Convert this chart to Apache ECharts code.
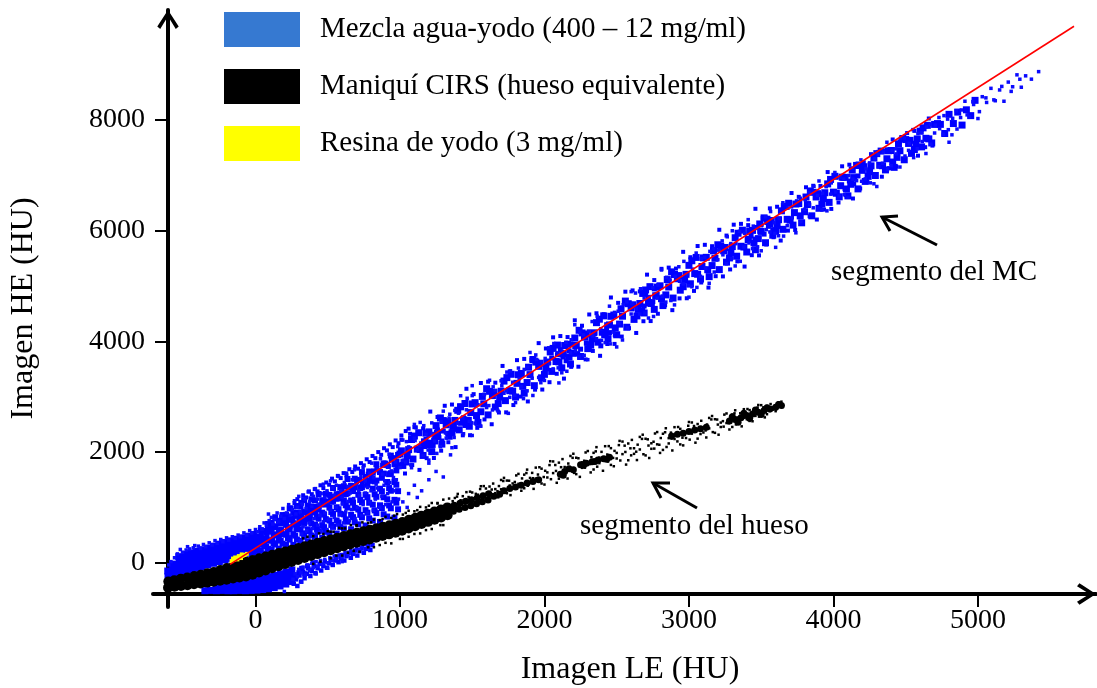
<!DOCTYPE html>
<html>
<head>
<meta charset="utf-8">
<title>Imagen HE vs Imagen LE</title>
<script src="https://cdn.jsdelivr.net/npm/echarts@6/dist/echarts.min.js"></script>
<style>
  html, body { margin: 0; padding: 0; background: #fff; }
  #chart { width: 1097px; height: 688px; }
</style>
</head>
<body>
<div id="chart"></div>
<script>
// ticks
const xTicks = [0, 1000, 2000, 3000, 4000, 5000];
const yTicks = [0, 2000, 4000, 6000, 8000];

const seriesNames = ['Mezcla agua-yodo (400 – 12 mg/ml)', 'Maniquí CIRS (hueso equivalente)', 'Resina de yodo (3 mg/ml)'];

// mezcla agua-yodo: zona compacta junto al origen
const waterSolid = [
  [-605,-250],[-607,-150],
  [-570,-230],[-572,-125],[-568,-25],
  [-530,-200],[-533,-95],[-527,15],[-531,110],
  [-490,-170],[-492,-65],[-487,45],[-491,150],
  [-450,-135],[-453,-25],[-448,80],[-451,175],
  [-410,-100],[-412,10],[-407,110],[-411,205],
  [-370,-70],[-373,40],[-368,140],[-371,235],
  [-330,-40],[-332,70],[-327,170],[-331,265],
  [-290,-10],[-293,100],[-288,200],[-291,300],
  [-250,20],[-252,130],[-247,230],[-251,335],
  [-210,50],[-213,160],[-208,260],[-211,365],
  [-170,80],[-172,190],[-167,290],[-171,395],
  [-130,110],[-133,220],[-128,320],[-131,425],
  [-90,140],[-92,250],[-87,350],[-91,450],
  [-50,170],[-53,280],[-48,380],[-51,480],
  [-10,200],[-12,310],[-7,410],[-11,510],
  [-350,-505],[-310,-500],[-270,-505],[-272,-430],[-230,-500],[-232,-410],[-190,-505],[-192,-400],
  [-150,-505],[-148,-405],[-152,-320],[-110,-500],[-112,-400],[-108,-300],[-70,-505],[-72,-400],[-68,-290],
  [-30,-500],[-32,-395],[-28,-285],[10,-495],[12,-390],[8,-280],[50,-485],[48,-375],[52,-265],
  [90,-470],[88,-360],[92,-250],[130,-450],[128,-340],[132,-230],[170,-420],[168,-310],[172,-200],
  [210,-385],[208,-280],[212,-170],[250,-340],[248,-240],[252,-130]
];

// mezcla: abanico por encima del hueso (0 – 1000 HU)
const waterFan = [
  [12,144],[12,253],[12,362],[12,471],[37,218],[37,341],[37,464],[37,586],
  [62,167],[62,304],[62,440],[62,577],[87,250],[87,400],[87,611],[87,701],
  [112,244],[112,403],[112,563],[112,722],[137,330],[137,495],[137,659],[137,823],
  [162,254],[162,422],[162,590],[162,758],[187,344],[187,516],[187,758],[187,862],
  [212,329],[212,507],[212,686],[212,865],[237,419],[237,606],[237,793],[237,980],
  [262,323],[262,517],[262,712],[262,906],[287,419],[287,622],[287,905],[287,1026],
  [312,396],[312,604],[312,812],[312,1019],[337,498],[337,709],[337,921],[337,1132],
  [362,388],[362,603],[362,817],[362,1032],[387,493],[387,711],[387,1016],[387,1147],
  [412,466],[412,687],[412,908],[412,1129],[437,571],[437,795],[437,1019],[437,1242],
  [462,452],[462,679],[462,905],[462,1131],[487,559],[487,788],[487,1108],[487,1246],
  [512,533],[512,764],[512,996],[512,1227],[537,648],[537,882],[537,1117],[537,1351],
  [562,528],[562,765],[562,1003],[562,1240],[587,644],[587,885],[587,1222],[587,1367],
  [612,620],[612,874],[612,1128],[612,1382],[637,742],[637,999],[637,1256],[637,1513],
  [662,605],[662,865],[662,1126],[662,1386],[687,729],[687,992],[687,1361],[687,1519],
  [712,694],[712,962],[712,1229],[712,1497],[737,820],[737,1093],[737,1365],[737,1638],
  [762,673],[762,950],[762,1228],[762,1505],[787,802],[787,1084],[787,1480],[787,1649],
  [812,762],[812,1050],[812,1338],[812,1626],[837,897],[837,1192],[837,1486],[837,1780],
  [862,737],[862,1038],[862,1338],[862,1639],[887,876],[887,1183],[887,1612],[887,1796],
  [912,835],[912,1147],[912,1459],[912,1771],[937,984],[937,1301],[937,1618],[937,1936],
  [962,814],[962,1137],[962,1459],[962,1781],[987,966],[987,1294],[987,1752],[987,1948],
  [25,226],[25,342],[25,436],[75,293],[75,437],[75,552],[125,352],[125,513],[125,643],
  [175,400],[175,571],[175,707],[225,446],[225,629],[225,775],[275,490],[275,688],[275,847],
  [325,531],[325,740],[325,908],[375,570],[375,786],[375,959],[425,607],[425,830],[425,1008],
  [475,643],[475,870],[475,1052],[525,683],[525,916],[525,1102],[575,729],[575,968],[575,1160],
  [625,783],[625,1038],[625,1242],[675,824],[675,1086],[675,1295],[725,865],[725,1135],[725,1351],
  [775,905],[775,1185],[775,1409],[825,946],[825,1237],[825,1470],[875,989],[875,1292],[875,1535],
  [925,1035],[925,1350],[925,1601],[975,1085],[975,1410],[975,1669]
];

// mezcla: borde superior del abanico
const waterFanTop = [
  [250,1000],[270,1080],[290,1150],[310,1100],[330,1220],[350,1180],[370,1290],[390,1240],[410,1330],
  [430,1290],[450,1400],[470,1350],[490,1450],[510,1410],[530,1520],[550,1470],[570,1570],[590,1530],
  [610,1620],[630,1580],[650,1690],[670,1640],[690,1740],[710,1700],[730,1800],[750,1760],[770,1870],
  [790,1820],[810,1930],[830,1890],[850,2000],[870,1950],[890,2070],[910,2030],[930,2140],[950,2090],
  [970,2210],[990,2160],[1010,2300],[1040,2380],[1070,2330],[1100,2450]
];

// mezcla: por debajo del hueso
const waterBelow = [
  [265,-380],[280,-300],[290,-420],[305,-230],[315,-340],[330,-160],[340,-280],[355,-200],[365,-100],
  [380,-240],[390,-150],[405,-60],[415,-190],[430,-100],[445,-20],[455,-140],[470,-60],[480,20],
  [495,-90],[510,-10],[520,60],[535,-40],[550,40],[560,110],[575,10],[590,80],[600,140],[615,40],
  [630,120],[645,180],[660,90],[675,160],[690,220],[705,130],[720,210],[735,260],[750,180],[765,250],
  [780,300],[795,230],[810,320]
];

// mezcla: grumos densos
const waterClumps = [
  [20,420],[40,520],[60,380],[80,470],[100,560],[120,420],[140,650],[160,500],[180,600],[200,720],
  [220,540],[240,650],[260,800],[280,600],[300,700],
  [280,-250],[300,-180],[320,-100],[340,-200],[360,-60],[380,-130],[400,0],
  [300,760],[320,830],[340,780],[360,880],[380,850],[400,930],[420,990],[440,950],[460,1050],[480,1100],
  [500,1060],[520,1160],[540,1200],[560,1150],[580,1260],[600,1300],[620,1240],[640,1350],[660,1400],
  [680,1350],[700,1460],[720,1500],[740,1440],[760,1560],[780,1600],[800,1540],[820,1660],[840,1700],
  [860,1640],[880,1760],[900,1800],[920,1740],[940,1860],[960,1900],[980,1840],
  [1150,2150],[1180,2230],[1210,2180],[1240,2300],[1270,2260],[1300,2380],[1330,2340],[1360,2450],
  [1390,2410],[1420,2520],[1450,2480],[1480,2590],[1200,2320],[1260,2400],[1320,2480],[1380,2560],
  [1440,2620],[1170,2100],[1230,2120],[1290,2200],
  [2050,3700],[2090,3760],[2130,3720],[2170,3830],[2210,3900],[2250,3860],[2290,3970],[2330,4030],
  [2370,3990],[2410,4100],[2450,4160],[2490,4120],[2110,3850],[2190,3950],[2270,4070],[2350,4150],
  [2430,4250],[2150,3650],[2230,3780],[2310,3890],[2390,3920],
  [2660,4700],[2690,4640],[2720,4780],[2750,4720],[2780,4850],[2700,4860],[2760,4950],[2680,4560],
  [3430,5900],[3460,5850],[3490,5990],[3520,5940],[3550,6080],[3580,6020],[3470,6060],[3540,6150],
  [4050,6820],[4080,6760],[4110,6900],[4140,6850],[4170,6990],[4060,6950]
];

// mezcla: franja principal (núcleo)
const waterBand = [
  [1000,1965],[1040,1821],[1080,2227],[1120,2053],[1160,1939],[1200,2365],[1240,2201],[1280,2617],
  [1320,2493],[1360,2349],[1400,2755],[1440,2581],[1480,2467],[1520,2893],[1560,2729],[1600,3145],
  [1640,3021],[1680,2877],[1720,3283],[1760,3109],[1800,2995],[1840,3421],[1880,3257],[1920,3673],
  [1960,3549],[2000,3405],[2040,3811],[2080,3637],[2120,3523],[2160,3949],[2200,3785],[2240,4201],
  [2280,4077],[2320,3933],[2360,4339],[2400,4165],[2440,4051],[2480,4477],[2520,4313],[2560,4729],
  [2600,4605],[2640,4461],[2680,4867],[2720,4693],[2760,4579],[2800,5005],[2840,4841],[2880,5257],
  [2920,5133],[2960,4989],[3000,5375],[3040,5226],[3080,5127],[3120,5520],[3160,5371],[3200,5747],
  [3240,5638],[3280,5509],[3320,5874],[3360,5720],[3400,5616],[3440,6007],[3480,5858],[3520,6233],
  [3560,6124],[3600,5995],[3640,6361],[3680,6207],[3720,6102],[3760,6493],[3800,6344],[3840,6720],
  [3880,6611],[3920,6481],[3960,6847],[4000,6698],[4040,6614],[4080,6965],[4120,6840],[4160,7181],
  [4200,7092],[4240,6983],[4280,7314],[4320,7184],[4360,7100],[4400,7451],[4440,7327],[4480,7668],
  [4520,7578],[4560,7469],[4600,7800],[4640,7671],[4680,7587],[4720,7937],
  [1020,1758],[1060,2044],[1100,2290],[1140,2046],[1180,2342],[1220,2008],[1260,2344],[1300,2570],
  [1340,2286],[1380,2572],[1420,2818],[1460,2574],[1500,2870],[1540,2536],[1580,2872],[1620,3098],
  [1660,2814],[1700,3100],[1740,3346],[1780,3102],[1820,3398],[1860,3064],[1900,3400],[1940,3626],
  [1980,3342],[2020,3628],[2060,3874],[2100,3630],[2140,3926],[2180,3592],[2220,3928],[2260,4154],
  [2300,3870],[2340,4156],[2380,4402],[2420,4158],[2460,4454],[2500,4120],[2540,4456],[2580,4682],
  [2620,4398],[2660,4684],[2700,4930],[2740,4686],[2780,4982],[2820,4648],[2860,4984],[2900,5210],
  [2940,4926],[2980,5212],[3020,5458],[3060,5214],[3100,5510],[3140,5171],[3180,5502],[3220,5722],
  [3260,5433],[3300,5714],[3340,5955],[3380,5706],[3420,5996],[3460,5657],[3500,5988],[3540,6209],
  [3580,5920],[3620,6200],[3660,6441],[3700,6192],[3740,6483],[3780,6144],[3820,6474],[3860,6695],
  [3900,6406],[3940,6687],[3980,6928],[4020,6678],[4060,6969],[4100,6630],[4140,6961],[4180,7182],
  [4220,6892],[4260,7173],[4300,7394],[4340,7175],[4380,7446],[4420,7146],[4460,7447],[4500,7648],
  [4540,7399],[4580,7660],[4620,7860],[4660,7661],[4700,7922],
  [1010,2022],[1050,1938],[1090,1874],[1130,2350],[1170,2186],[1210,2132],[1250,2478],[1290,2144],
  [1330,2550],[1370,2466],[1410,2402],[1450,2878],[1490,2714],[1530,2660],[1570,3006],[1610,2672],
  [1650,3078],[1690,2994],[1730,2930],[1770,3406],[1810,3242],[1850,3188],[1890,3534],[1930,3200],
  [1970,3606],[2010,3522],[2050,3458],[2090,3934],[2130,3770],[2170,3716],[2210,4062],[2250,3728],
  [2290,4134],[2330,4050],[2370,3986],[2410,4462],[2450,4298],[2490,4244],[2530,4590],[2570,4256],
  [2610,4662],[2650,4578],[2690,4514],[2730,4990],[2770,4826],[2810,4772],[2850,5118],[2890,4784],
  [2930,5190],[2970,5106],[3010,5042],[3050,5518],[3090,5354],[3130,5296],[3170,5637],[3210,5298],
  [3250,5698],[3290,5609],[3330,5540],[3370,6011],[3410,5842],[3450,5782],[3490,6123],[3530,5784],
  [3570,6185],[3610,6096],[3650,6026],[3690,6497],[3730,6328],[3770,6269],[3810,6610],[3850,6270],
  [3890,6671],[3930,6582],[3970,6513],[4010,6984],[4050,6814],[4090,6755],[4130,7096],[4170,6757],
  [4210,7158],[4250,7068],[4290,6999],[4330,7440],[4370,7301],[4410,7242],[4450,7572],[4490,7283],
  [4530,7634],[4570,7565],[4610,7516],[4650,7906],
  [4740,7923],[4770,7758],[4800,8104],[4830,7938],[4860,8145],[4890,7910],[4920,8186],[4950,8081],[4980,8357]
];

// mezcla: franja principal (bordes)
const waterBandEdge = [
  [1010,2222],[1035,1613],[1060,2424],[1085,1765],[1110,2447],[1135,1678],[1160,2429],[1185,1890],
  [1210,2732],[1235,1893],[1260,2634],[1285,2025],[1310,2837],[1335,2178],[1360,2859],[1385,2090],
  [1410,2842],[1435,2303],[1460,3144],[1485,2305],[1510,3047],[1535,2438],[1560,3249],[1585,2590],
  [1610,3272],[1635,2503],[1660,3254],[1685,2715],[1710,3557],[1735,2718],[1760,3459],[1785,2850],
  [1810,3662],[1835,3003],[1860,3684],[1885,2915],[1910,3667],[1935,3128],[1960,3969],[1985,3130],
  [2010,3872],[2035,3263],[2060,4074],[2085,3415],[2110,4097],[2135,3328],[2160,4079],[2185,3540],
  [2210,4382],[2235,3543],[2260,4284],[2285,3675],[2310,4487],[2335,3828],[2360,4509],[2385,3740],
  [2410,4492],[2435,3953],[2460,4794],[2485,3955],[2510,4697],[2535,4088],[2560,4899],[2585,4240],
  [2610,4922],[2635,4153],[2660,4904],[2685,4365],[2710,5207],[2735,4368],[2760,5109],[2785,4500],
  [2810,5312],[2835,4653],[2860,5334],[2885,4565],[2910,5317],[2935,4778],[2960,5619],[2985,4780],
  [3010,5522],[3035,4913],[3060,5724],[3085,5065],[3110,5746],[3135,4973],[3160,5721],[3185,5179],
  [3210,6018],[3235,5175],[3260,5913],[3285,5301],[3310,6110],[3335,5447],[3360,6125],[3385,5353],
  [3410,6102],[3435,5559],[3460,6397],[3485,5555],[3510,6234],[3535,5751],[3560,6405],[3585,5883],
  [3610,6434],[3635,5823],[3660,6429],[3685,6003],[3710,6682],[3735,6015],[3760,6613],[3785,6131],
  [3810,6786],[3835,6263],[3860,6813],[3885,6203],[3910,6810],[3935,6383],[3960,7061],[3985,6395],
  [4010,6994],[4035,6511],[4060,7165],[4085,6643],[4110,7194],[4135,6583],[4160,7189],[4185,6763],
  [4210,7238],[4235,6885],[4260,7385],[4285,7003],[4310,7426],[4335,6977],[4360,7441],[4385,7131],
  [4410,7650],[4435,7159],[4460,7617],[4485,7265],[4510,7766],[4535,7383],[4560,7805],[4585,7357],
  [4610,7822],[4635,7511],[4660,8029],[4685,7539]
];

// mezcla: puntos dispersos
const waterSpeckle = [
  [-600,-40],[-585,20],[-560,90],[-540,160],[-520,240],[-505,190],[-480,230],[-470,290],[-455,250],
  [-430,270],[-420,310],[-395,300],[-380,260],[-360,330],[-345,290],[-320,360],[-300,320],[-280,400],
  [-265,350],[-240,420],[-225,380],[-200,450],[-185,410],[-160,470],[-140,440],[-120,500],[-105,470],
  [-80,540],[-60,500],[-40,580],[-25,540],[0,600],[15,560],[30,650],[45,610],[60,720],[75,680],
  [90,880],[95,760],[110,820],[120,700],[135,780],[150,900],[160,740],[175,840],[190,980],[200,800],
  [215,900],[230,1050],[240,860],[255,960],[270,1120],[280,880],[290,1000],[300,1200],[310,920],
  [325,1060],[340,1150],[350,980],[365,1280],[375,1100],[390,1020],[400,1200],[415,1340],[430,1150],
  [440,1060],[455,1250],[470,1420],[480,1180],[495,1300],[510,1100],[520,1480],[535,1350],[545,1220],
  [560,1400],[575,1560],[590,1300],[600,1180],[615,1450],[630,1620],[640,1380],[655,1260],[670,1500],
  [685,1680],[700,1420],[715,1300],[730,1560],[745,1720],[760,1480],[775,1360],[790,1620],[805,1800],
  [820,1540],[835,1420],[850,1680],[865,1880],[880,1600],[895,1480],[910,1740],[925,1960],[940,1660],
  [955,1540],[970,1820],[985,2100],[1000,1720],
  [310,400],[320,520],[330,650],[345,450],[355,580],[370,720],[380,480],[395,620],[405,800],[420,530],
  [430,680],[445,860],[455,560],[470,740],[480,900],[495,600],[505,780],[520,950],[530,640],[545,820],
  [560,1000],[570,680],[585,870],[600,1060],[610,720],[625,920],[640,1110],[650,760],[665,960],
  [680,1160],[690,800],[705,1000],[720,1210],[735,850],[745,1050],[760,1260],[775,900],[790,1100],
  [800,1300],[815,950],[830,1150],[845,1350],[860,1000],[875,1200],[890,1400],[900,1050],[915,1250],
  [930,1450],[945,1100],[960,1300],[975,1500],[990,1150],
  [260,-300],[275,-200],[290,-250],[300,-120],[315,-180],[330,-80],[345,-220],[360,-40],[375,-130],
  [390,-10],[400,-90],[420,20],[430,-60],[450,40],[465,-20],[480,60],[500,0],[515,90],[530,40],
  [545,120],[560,70],[580,140],[600,100],[620,180],[640,140],[660,220],[680,190],[700,260],[720,240],
  [740,300],[760,330],[780,360],[200,-520],[320,-350],[420,-200],[500,-100],[600,20],
  [1020,2218],[1040,1821],[1060,2094],[1080,1717],[1100,2250],[1120,2043],[1140,2536],[1160,1939],
  [1180,2322],[1200,1855],[1220,2528],[1240,2201],[1260,2364],[1280,2097],[1300,2740],[1320,2253],
  [1340,2616],[1360,2079],[1380,2752],[1400,2515],[1420,3018],[1440,2331],[1460,2764],[1480,2557],
  [1500,3020],[1520,2523],[1540,2856],[1560,2469],[1580,3042],[1600,2805],[1620,3298],[1640,2761],
  [1660,3114],[1680,2737],[1700,3290],[1720,3063],[1740,3446],[1760,2989],[1780,3262],[1800,2895],
  [1820,3518],[1840,3181],[1860,3494],[1880,3107],[1900,3410],[1920,3023],[1940,3756],[1960,3349],
  [1980,3632],[2000,3295],
  [2030,3885],[2060,3504],[2090,3794],[2120,3433],[2150,3983],[2180,3792],[2210,4301],[2240,3721],
  [2270,4120],[2300,3670],[2330,4359],[2360,4049],[2390,4228],[2420,3978],[2450,4637],[2480,4167],
  [2510,4546],[2540,4026],[2570,4715],[2600,4495],[2630,4874],[2660,4494],[2690,4783],[2720,4423],
  [2750,4972],[2780,4782],[2810,5291],[2840,4711],[2870,5110],[2900,4660],[2930,5349],[2960,5039],
  [2990,5218],[3020,4988],[3050,5597],[3080,5177],[3110,5520],[3140,5051],[3170,5676],[3200,5477],
  [3230,5817],[3260,5403],[3290,5768],[3320,5364],[3350,5990],[3380,5706],[3410,6201],[3440,5677],
  [3470,6042],[3500,5638],[3530,6253],[3560,5979],[3590,6144],[3620,5910],[3650,6506],[3680,6092],
  [3710,6432],[3740,5963],[3770,6588],[3800,6389],[3830,6690],[3860,6415],[3890,6640],[3920,6376],
  [3950,6797],[3980,6663],[4010,7053],[4040,6629],[4070,6934],[4100,6605],[4130,7130],[4160,6906],
  [4190,7281],[4220,6937],[4250,7227],[4280,6849],[4310,7374],[4340,7220],[4370,7600],[4400,7176],
  [4430,7481],[4460,7152],[4490,7677],[4520,7453],[4550,7828],[4580,7484],[4610,7775],[4640,7396],
  [4670,7921],[4700,7767],[4730,8047],[4760,7743],[4790,8018],[4820,7734],[4850,8169],[4880,8046],
  [4910,8341],[4940,8057],[4970,8282],[5000,8028],[5030,8423],[5060,8319],[5090,8574],[5120,8350],
  [5150,8545],[5180,8341],[5210,8687],[5240,8603],[5270,8818],[5300,8594],[5330,8800],[5370,8740],
  [5420,8876],
  [1015,1850],[1045,2189],[1075,1769],[1105,2208],[1135,2118],[1165,2477],[1195,2037],[1225,2336],
  [1255,1976],[1285,2545],[1315,2345],[1345,2684],[1375,2264],[1405,2703],[1435,2613],[1465,2972],
  [1495,2532],[1525,2831],[1555,2471],[1585,3040],[1615,2840],[1645,3179],[1675,2759],[1705,3198],
  [1735,3108],[1765,3467],[1795,3027],[1825,3326],[1855,2966],[1885,3535],[1915,3335],[1945,3674],
  [1975,3254],[2005,3693],[2035,3603],[2065,3962],[2095,3522],[2125,3821],[2155,3461],[2185,4030],
  [2215,3830],[2245,4169],[2275,3749],[2305,4188],[2335,4098],[2365,4457],[2395,4017],[2425,4316],
  [2455,3956],[2485,4525],[2515,4325],[2545,4664],[2575,4244],[2605,4683],[2635,4593],[2665,4952],
  [2695,4512],[2725,4811],[2755,4451],[2785,5020],[2815,4820],[2845,5159],[2875,4739],[2905,5178],
  [2935,5088],[2965,5447],[2995,5007],[3025,5306],[3055,4976],[3085,5495],[3115,5323],[3145,5628],
  [3175,5254],[3205,5649],[3235,5565],[3265,5891],[3295,5497],[3325,5767],[3355,5448],[3385,5953],
  [3415,5779],[3445,6084],[3475,5710],[3505,6105],[3535,6021],[3565,6347],[3595,5953],[3625,6223],
  [3655,5904],[3685,6409],[3715,6235],[3745,6540],[3775,6166],[3805,6561],[3835,6477],[3865,6803],
  [3895,6409],[3925,6679],[3955,6360],[3985,6865],[4015,6701],[4045,6966],[4075,6652],[4105,6997],
  [4135,6933],[4165,7219],[4195,6895],[4225,7125],[4255,6866],[4285,7301],[4315,7157],[4345,7422],
  [4375,7108],[4405,7453],[4435,7389],[4465,7675],[4495,7351],[4525,7581],[4555,7322],[4585,7757],
  [4615,7613],[4645,7878],[4675,7564],[4705,7909],[4735,7845],[4765,8081],[4795,7827],[4825,8032],
  [4855,7838],[4885,8183],[4925,8094],[4965,8334],[5010,8153],[5055,8402],[5110,8366],[5165,8609],
  [5230,8519],[5290,8739],
  [1100,2500],[1500,3200],[1900,3800],[2600,4900],[3300,6000],[3900,6900],[1200,1800],[1350,1950],
  [1500,2300],[1750,2700],[2100,3250],[2500,3900],[3000,4800],[3600,5700],[4300,6800],[4800,7600],
  [1020,1100],[1060,1250],[1100,1400],[1150,1300],[1200,1500],[1250,1650],[1300,1550],[1050,1000],
  [1120,1180]
];

// maniquí CIRS: banda gruesa
const boneBand = [
  [-605,-450],[-603,-340],[-560,-435],[-562,-315],[-515,-420],[-517,-290],[-470,-405],[-472,-266],
  [-425,-390],[-427,-315],[-423,-241],[-380,-374],[-382,-295],[-378,-216],[-335,-359],[-337,-275],
  [-333,-191],[-290,-344],[-292,-255],[-288,-167],[-245,-326],[-247,-230],[-243,-133],[-200,-306],
  [-202,-200],[-198,-95],[-155,-286],[-157,-170],[-153,-58],[-110,-267],[-112,-140],[-108,-20],
  [-65,-247],[-67,-115],[-63,17],[-20,-215],[-22,-90],[-18,50],[25,-177],[23,-45],[27,81],
  [70,-139],[68,-10],[72,112],[115,-101],[113,20],[117,143],[160,-63],[158,50],[162,174],
  [205,-25],[203,90],[207,205],[250,13],[248,120],[252,236],[295,51],[293,150],[297,267],
  [340,86],[338,190],[342,298],[385,121],[383,220],[387,329],[430,156],[428,250],[432,360],
  [475,191],[473,290],[477,391],[520,226],[518,320],[522,422],[565,261],[563,350],[567,453],
  [610,296],[608,390],[612,484],[655,330],[653,420],[657,515],[700,361],[698,450],[702,542],
  [745,392],[743,480],[747,569],[790,422],[788,510],[792,596],[835,453],[833,540],[837,623],
  [880,483],[878,570],[882,650],[925,513],[923,600],[927,679],[970,544],[968,630],[972,706],
  [1015,579],[1013,660],[1017,737],[1060,619],[1058,700],[1062,775],[1105,659],[1103,740],[1107,812],
  [1150,699],[1152,780],[1148,849],[1195,739],[1197,820],[1193,887],[1240,779],[1242,860],[1238,924],
  [1285,819],[1287,900],[1283,961],[1330,860],[1332,940],[1328,1000]
];

// maniquí: trazos densos
const boneStreaks = [
  [1370,930],[1375,1040],[1410,965],[1415,1075],[1450,1000],[1455,1110],[1490,1030],[1495,1140],
  [1530,1065],[1535,1175],[1570,1100],[1575,1210],[1610,1135],[1615,1245],[1650,1200],[1690,1240],
  [1720,1300],[1760,1340],[1800,1370],[1840,1400],[1880,1440],[1920,1470],[1960,1500],
  [2110,1600],[2140,1650],[2170,1700],[2200,1680],[2130,1580],
  [2250,1770],[2270,1760],[2290,1800],[2330,1825],[2350,1830],[2370,1855],[2410,1880],[2430,1870],[2450,1905],
  [2880,2290],[2920,2320],[2960,2340],[3000,2370],[3040,2400],[3080,2420],[3120,2450],
  [3280,2560],[3300,2640],[3320,2590],[3340,2540],[3360,2620],[3380,2700],[3400,2660],[3420,2610],
  [3440,2690],[3460,2760],[3480,2720],[3500,2680],[3520,2750],[3540,2800],[3560,2780],[3600,2810],
  [3620,2860],[3640,2840]
];

// maniquí: puntos dispersos
const boneSpeckle = [
  [520,560],[600,620],[700,680],[800,730],[880,790],[960,850],[1040,900],[1120,950],[1200,1030],[1260,1080],
  [560,130],[680,215],[780,280],[900,360],[1000,430],[1100,520],[1180,590],[1280,680],
  [330,440],[360,470],[400,480],[440,530],[470,520],[500,570],[540,560],[580,630],[620,620],[660,680],
  [700,670],[740,730],[780,720],[820,780],[860,770],[900,830],[940,810],[980,880],[1020,870],[1060,940],
  [1100,930],[1140,1010],[1180,1000],[1220,1080],[1260,1070],[1300,1140],[1340,1160],
  [400,-20],[450,20],[520,80],[600,130],[640,180],[720,200],[820,280],[860,320],[940,350],[1020,430],
  [1060,470],[1140,530],[1220,610],[1300,680],
  [1360,934],[1365,1113],[1355,1031],[1400,1244],[1405,1016],[1395,1195],[1440,1130],[1445,983],[1435,1203],
  [1480,1106],[1485,1285],[1475,1187],[1520,1066],[1525,1245],[1515,1163],[1560,1383],[1565,1145],[1555,1332],
  [1600,1263],[1605,1105],[1595,1342],[1640,1233],[1645,1431],[1635,1323],[1680,1182],[1685,1386],[1675,1293],
  [1720,1534],[1725,1268],[1715,1477],[1760,1396],[1765,1222],[1755,1483],[1800,1361],[1805,1578],[1795,1460],
  [1840,1301],[1845,1524],[1835,1423],[1880,1683],[1885,1392],[1875,1621],[1920,1528],[1925,1335],[1915,1624],
  [1960,1484],[1965,1726],[1955,1594],[2000,1413],[2005,1662],[1995,1549],[2040,1835],[2045,1510],[2035,1765],
  [2080,1659],[2085,1445],[2075,1766],[2120,1605],[2125,1873],[2115,1727],[2160,1522],[2165,1793],[2155,1670],
  [2200,1970],[2205,1624],[2195,1896],[2240,1776],[2245,1552],[2235,1888],[2280,1718],[2285,1993],[2275,1843],
  [2320,1632],[2325,1908],[2315,1783],[2360,2089],[2365,1736],[2355,2013],[2400,1890],[2405,1662],[2395,2004],
  [2440,1829],[2445,2108],[2435,1956],[2480,1744],[2485,2022],[2475,1895],[2520,2202],[2525,1848],[2515,2126],
  [2560,2002],[2565,1774],[2555,2116],[2600,1941],[2605,2220],[2595,2068],[2640,1856],[2645,2134],[2635,2007],
  [2680,2314],[2685,1961],[2675,2238],[2720,2118],[2725,1893],[2715,2230],[2760,2063],[2765,2336],[2755,2187],
  [2800,1985],[2805,2254],[2795,2132],[2840,2431],[2845,2092],[2835,2358],[2880,2244],[2885,2029],[2875,2352],
  [2920,2193],[2925,2453],[2915,2311],[2960,2121],[2965,2377],[2955,2260],[3000,2544],[3005,2225],[2995,2476],
  [3040,2371],[3045,2170],[3035,2471],[3080,2326],[3085,2566],[3075,2435],[3120,2264],[3125,2498],[3115,2391],
  [3160,2652],[3165,2361],[3155,2590],[3200,2497],[3205,2314],[3195,2588],[3240,2460],[3245,2677],[3235,2559],
  [3280,2408],[3285,2617],[3275,2522],[3320,2755],[3325,2500],[3315,2700],[3360,2622],[3365,2465],[3355,2701],
  [3400,2595],[3405,2778],[3395,2678],[3440,2557],[3445,2733],[3435,2653],[3480,2851],[3485,2641],[3475,2806],
  [3520,2748],[3525,2627],[3515,2809],[3560,2742],[3565,2868],[3555,2799],[3600,2739],[3605,2844],[3595,2796],
  [3640,2911],[3645,2813],[3635,2890],
  [1380,1170],[1380,974],[1420,1129],[1420,1064],[1460,1276],[1460,1130],[1500,1270],[1500,1074],
  [1540,1230],[1540,1163],[1580,1385],[1580,1230],[1620,1377],[1620,1165],[1660,1331],[1660,1258],
  [1700,1496],[1700,1327],[1740,1485],[1740,1256],[1780,1433],[1780,1355],[1820,1606],[1820,1426],
  [1860,1592],[1860,1346],[1900,1533],[1900,1449],[1940,1719],[1940,1523],[1980,1700],[1980,1432],
  [2020,1633],[2020,1541],[2060,1831],[2060,1620],[2100,1809],[2100,1519],[2140,1730],[2140,1632],
  [2180,1930],[2180,1708],[2220,1898],[2220,1601],[2260,1815],[2260,1715],[2300,2019],[2300,1794],
  [2340,1986],[2340,1685],[2380,1901],[2380,1800],[2420,2106],[2420,1879],[2460,2071],[2460,1768],
  [2500,1985],[2500,1884],[2540,2190],[2540,1963],[2580,2155],[2580,1852],[2620,2069],[2620,1968],
  [2660,2274],[2660,2047],[2700,2241],[2700,1940],[2740,2159],[2740,2059],[2780,2362],[2780,2140],
  [2820,2331],[2820,2039],[2860,2252],[2860,2156],[2900,2450],[2900,2236],[2940,2420],[2940,2139],
  [2980,2346],[2980,2254],[3020,2535],[3020,2333],[3060,2507],[3060,2243],[3100,2440],[3100,2354],
  [3140,2617],[3140,2428],[3180,2594],[3180,2348],[3220,2533],[3220,2453],[3260,2698],[3260,2525],
  [3300,2677],[3300,2454],[3340,2624],[3340,2553],[3380,2775],[3380,2621],[3420,2759],[3420,2563],
  [3460,2716],[3460,2654],[3500,2848],[3500,2718],[3540,2834],[3540,2684],[3580,2809],[3580,2767],
  [3620,2898],[3620,2824]
];

// resina de yodo
const resinPoints = [
  [-165,30],[-150,50],[-135,70],[-120,90],[-105,110],[-90,125],[-75,140],[-60,160],
  [-140,95],[-115,120],[-95,150],[-155,75],[-125,60],[-100,85]
];

// recta de ajuste
const fitLine = [[-176, -30], [5665, 9696]];

const serif = '"Liberation Serif", "Times New Roman", serif';
const arrowHead = 'path://M0,17L11,0L22,17L19,19.5L11,6.5L3,19.5Z';

const chart = echarts.init(document.getElementById('chart'));

function dots(name, data, size, color, symbol) {
  return {
    type: 'scatter',
    name: name,
    data: data,
    symbol: symbol || 'rect',
    symbolSize: size,
    itemStyle: { color: color, opacity: 1 },
    silent: true
  };
}

const option = {
  animation: false,
  backgroundColor: '#fff',
  grid: { left: 153, right: 1, top: 10, bottom: 81, containLabel: false, outerBoundsMode: 'none' },
  legend: {
    left: 224,
    top: 12,
    padding: 0,
    orient: 'vertical',
    itemWidth: 76,
    itemHeight: 35,
    itemGap: 22,
    icon: 'rect',
    selectedMode: false,
    textStyle: { fontSize: 29, fontFamily: serif, color: '#000', padding: [0, 0, 0, 15] },
    data: [
      { name: seriesNames[0], itemStyle: { color: '#3679d1' } },
      { name: seriesNames[1], itemStyle: { color: '#000' } },
      { name: seriesNames[2], itemStyle: { color: '#ffff00' } }
    ]
  },
  xAxis: {
    type: 'value',
    min: -709,
    max: 5817,
    offset: -13,
    name: 'Imagen LE (HU)',
    nameLocation: 'middle',
    nameGap: 60,
    nameMoveOverlap: false,
    nameTextStyle: { fontSize: 32, fontFamily: serif, color: '#000', padding: [0, 0, 0, 11] },
    axisLine: {
      show: true, onZero: false,
      symbol: ['none', arrowHead], symbolSize: [22, 19], symbolOffset: [0, -9.5],
      lineStyle: { color: '#000', width: 4 }
    },
    axisTick: { show: true, length: 13, customValues: xTicks, lineStyle: { color: '#000', width: 2 } },
    axisLabel: {
      customValues: xTicks, margin: 13, fontSize: 28, fontFamily: serif, color: '#000',
      formatter: function (v) { return String(v); }
    },
    splitLine: { show: false }
  },
  yAxis: {
    type: 'value',
    min: -800,
    max: 9990,
    offset: -15,
    name: 'Imagen HE (HU)',
    nameLocation: 'middle',
    nameGap: 128,
    nameMoveOverlap: false,
    nameTextStyle: { fontSize: 32, fontFamily: serif, color: '#000' },
    axisLine: {
      show: true, onZero: false,
      symbol: ['none', arrowHead], symbolSize: [22, 19], symbolOffset: [0, -9.5],
      lineStyle: { color: '#000', width: 4 }
    },
    axisTick: { show: true, length: 13, customValues: yTicks, lineStyle: { color: '#000', width: 2 } },
    axisLabel: {
      customValues: yTicks, margin: 23, fontSize: 28, fontFamily: serif, color: '#000',
      formatter: function (v) { return String(v); }
    },
    splitLine: { show: false }
  },
  graphic: [
    { type: 'text', left: 831, top: 258, style: { text: 'segmento del MC', font: '29px "Liberation Serif", serif', fill: '#000' } },
    { type: 'line', shape: { x1: 882, y1: 217, x2: 937, y2: 245 }, style: { stroke: '#000', lineWidth: 3 } },
    { type: 'polyline', shape: { points: [[898, 216], [882, 217], [890, 231]] }, style: { stroke: '#000', lineWidth: 3, fill: null } },
    { type: 'text', left: 580, top: 512, style: { text: 'segmento del hueso', font: '29px "Liberation Serif", serif', fill: '#000' } },
    { type: 'line', shape: { x1: 653, y1: 483, x2: 697, y2: 508 }, style: { stroke: '#000', lineWidth: 3 } },
    { type: 'polyline', shape: { points: [[670, 483], [653, 483], [661, 498]] }, style: { stroke: '#000', lineWidth: 3, fill: null } }
  ],
  series: [
    dots(seriesNames[0], waterSolid, 7, '#0000ff'),
    dots(seriesNames[0], waterFan, 6, '#0000ff'),
    dots(seriesNames[0], waterFanTop, 4, '#0000ff'),
    dots(seriesNames[0], waterBelow, 4.5, '#0000ff'),
    dots(seriesNames[0], waterClumps, 5, '#0000ff'),
    dots(seriesNames[0], waterBand, 7, '#0000ff'),
    dots(seriesNames[0], waterBandEdge, 4, '#0000ff'),
    dots(seriesNames[0], waterSpeckle, 3.5, '#0a0aff'),
    dots(seriesNames[1], boneBand, 10, '#000', 'circle'),
    dots(seriesNames[1], boneStreaks, 7, '#000', 'circle'),
    dots(seriesNames[1], boneSpeckle, 2.5, '#000'),
    dots(seriesNames[2], resinPoints, 4, '#ffff00'),
    {
      type: 'line',
      name: 'ajuste',
      data: fitLine,
      symbol: 'none',
      silent: true,
      lineStyle: { color: '#ff0000', width: 1.6 },
      z: 5
    }
  ]
};

chart.setOption(option);
</script>
</body>
</html>
